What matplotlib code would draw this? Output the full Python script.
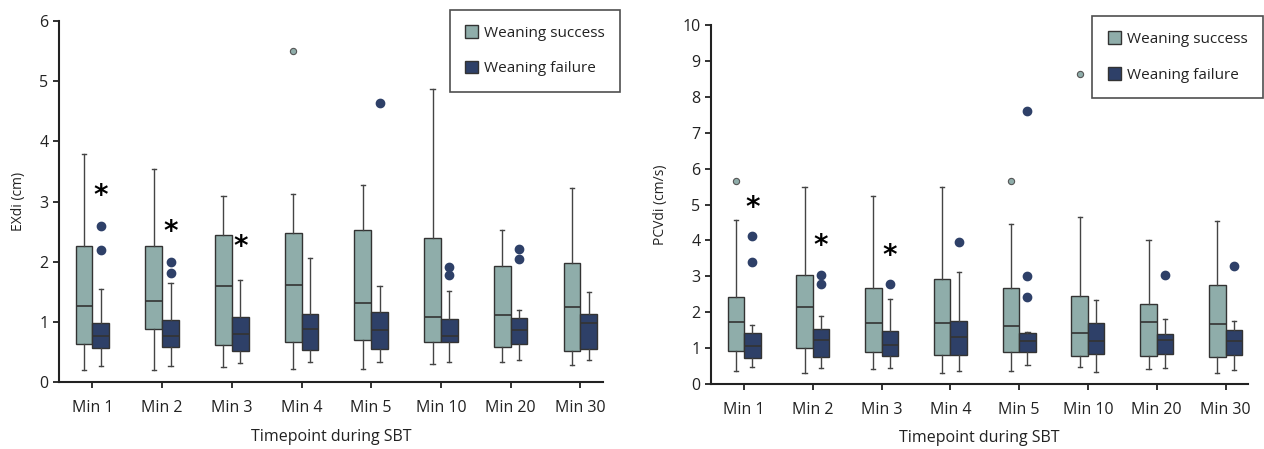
import matplotlib.pyplot as plt
from matplotlib.patches import Patch

plt.rcParams['font.family'] = ['Open Sans', 'DejaVu Sans']

# categories
timepoints = ['Min 1', 'Min 2', 'Min 3', 'Min 4', 'Min 5', 'Min 10', 'Min 20', 'Min 30']

# EXdi (cm): [whisker low, q1, median, q3, whisker high]
exdi_success = [
    [0.20, 0.64, 1.27, 2.27, 3.79],
    [0.20, 0.89, 1.35, 2.27, 3.55],
    [0.25, 0.61, 1.60, 2.45, 3.09],
    [0.22, 0.67, 1.61, 2.48, 3.12],
    [0.22, 0.70, 1.31, 2.52, 3.27],
    [0.30, 0.66, 1.09, 2.39, 4.87],
    [0.34, 0.59, 1.11, 1.93, 2.52],
    [0.28, 0.51, 1.25, 1.98, 3.22],
]
exdi_success_out = [[], [], [], [5.51], [], [], [], []]
exdi_failure = [
    [0.27, 0.56, 0.76, 0.98, 1.55],
    [0.27, 0.58, 0.76, 1.04, 1.65],
    [0.32, 0.52, 0.80, 1.09, 1.69],
    [0.34, 0.54, 0.89, 1.14, 2.06],
    [0.34, 0.55, 0.86, 1.16, 1.59],
    [0.34, 0.67, 0.76, 1.05, 1.52],
    [0.37, 0.64, 0.86, 1.06, 1.20],
    [0.36, 0.55, 0.98, 1.13, 1.50],
]
exdi_failure_out = [[2.60, 2.19], [1.99, 1.81], [], [], [4.64], [1.92, 1.78], [2.22, 2.04], []]
exdi_stars = [3.10, 2.49, 2.24, None, None, None, None, None]

# PCVdi (cm/s)
pcv_success = [
    [0.35, 0.92, 1.73, 2.43, 4.56],
    [0.31, 1.00, 2.13, 3.04, 5.49],
    [0.40, 0.87, 1.68, 2.67, 5.23],
    [0.31, 0.79, 1.68, 2.91, 5.49],
    [0.36, 0.88, 1.62, 2.68, 4.47],
    [0.47, 0.77, 1.42, 2.46, 4.64],
    [0.41, 0.77, 1.71, 2.22, 4.01],
    [0.31, 0.74, 1.67, 2.74, 4.53],
]
pcv_success_out = [[5.66], [], [], [], [5.66], [8.63], [], []]
pcv_failure = [
    [0.47, 0.73, 1.04, 1.41, 1.64],
    [0.45, 0.75, 1.22, 1.53, 1.89],
    [0.45, 0.77, 1.08, 1.46, 2.37],
    [0.36, 0.79, 1.29, 1.76, 3.11],
    [0.52, 0.87, 1.20, 1.41, 1.45],
    [0.33, 0.83, 1.20, 1.68, 2.33],
    [0.43, 0.83, 1.22, 1.40, 1.80],
    [0.38, 0.79, 1.20, 1.49, 1.76],
]
pcv_failure_out = [[4.11, 3.40], [3.04, 2.79], [2.79], [3.94], [7.62, 3.00, 2.43], [], [3.04], [3.28]]
pcv_stars = [4.90, 3.85, 3.56, None, None, None, None, None]

c_succ = '#8fadaa'
c_fail = '#2e4068'
edge = '#333333'


def stats(rows, outs):
    res = []
    for r, o in zip(rows, outs):
        res.append(dict(whislo=r[0], q1=r[1], med=r[2], q3=r[3], whishi=r[4], fliers=o))
    return res


def panel(ax, succ, succ_out, fail, fail_out, stars, ymax, ylabel):
    n = len(timepoints)
    pos = list(range(n))
    w = 0.24
    common = dict(widths=w, patch_artist=True, capwidths=0.06, manage_ticks=False,
                  boxprops=dict(edgecolor=edge, linewidth=1.0),
                  medianprops=dict(color=edge, linewidth=1.2),
                  whiskerprops=dict(color='#444444', linewidth=1.0),
                  capprops=dict(color='#444444', linewidth=1.0))
    b1 = ax.bxp(stats(succ, succ_out), positions=[p - w / 2 for p in pos],
                flierprops=dict(marker='o', markersize=4.5, markerfacecolor=c_succ,
                                markeredgecolor='#555555', markeredgewidth=0.8), **common)
    b2 = ax.bxp(stats(fail, fail_out), positions=[p + w / 2 for p in pos],
                flierprops=dict(marker='o', markersize=6, markerfacecolor=c_fail,
                                markeredgecolor=c_fail), **common)
    for b in b1['boxes']:
        b.set_facecolor(c_succ)
    for b in b2['boxes']:
        b.set_facecolor(c_fail)
    for p, s in zip(pos, stars):
        if s is not None:
            ax.text(p + w / 2, s, '*', ha='center', va='center', fontsize=20,
                    fontweight='bold', family='DejaVu Sans')
    ax.set_xticks(pos)
    ax.set_xticklabels(timepoints)
    ax.set_xlim(-0.48, n - 0.68)
    ax.set_ylim(0, ymax)
    ax.set_yticks(range(0, ymax + 1))
    for s in ['top', 'right']:
        ax.spines[s].set_visible(False)
    for s in ['left', 'bottom']:
        ax.spines[s].set_linewidth(1.5)
        ax.spines[s].set_color('#222222')
    ax.tick_params(axis='both', labelsize=11.5, color='#222222', width=1.3, length=4,
                   labelcolor='#222222')
    ax.tick_params(axis='x', pad=9)
    ax.set_xlabel('Timepoint during SBT', fontsize=11.5, color='#222222', labelpad=9)
    ax.set_ylabel(ylabel, fontsize=10, color='#222222', labelpad=10)


fig = plt.figure(figsize=(12.64, 4.49), dpi=100)
ax1 = fig.add_axes([0.0467, 0.149, 0.430, 0.804])
ax2 = fig.add_axes([0.5625, 0.1455, 0.4245, 0.798])

panel(ax1, exdi_success, exdi_success_out, exdi_failure, exdi_failure_out, exdi_stars, 6, 'EXdi (cm)')
panel(ax2, pcv_success, pcv_success_out, pcv_failure, pcv_failure_out, pcv_stars, 10, 'PCVdi (cm/s)')

handles = [Patch(facecolor=c_succ, edgecolor=edge, label='Weaning success'),
           Patch(facecolor=c_fail, edgecolor=edge, label='Weaning failure')]
for ax, anchor in [(ax1, (0.4905, 0.978)), (ax2, (0.999, 0.964))]:
    leg = fig.legend(handles=handles, loc='upper right', bbox_to_anchor=anchor,
                     fontsize=11, frameon=True, fancybox=False, edgecolor='#222222',
                     handlelength=0.85, handleheight=0.9, labelspacing=1.3,
                     borderpad=1.0, handletextpad=0.4, borderaxespad=0)
    leg.get_frame().set_linewidth(1.2)
    for t in leg.get_texts():
        t.set_color('#222222')

fig.savefig('out.png', dpi=100)
